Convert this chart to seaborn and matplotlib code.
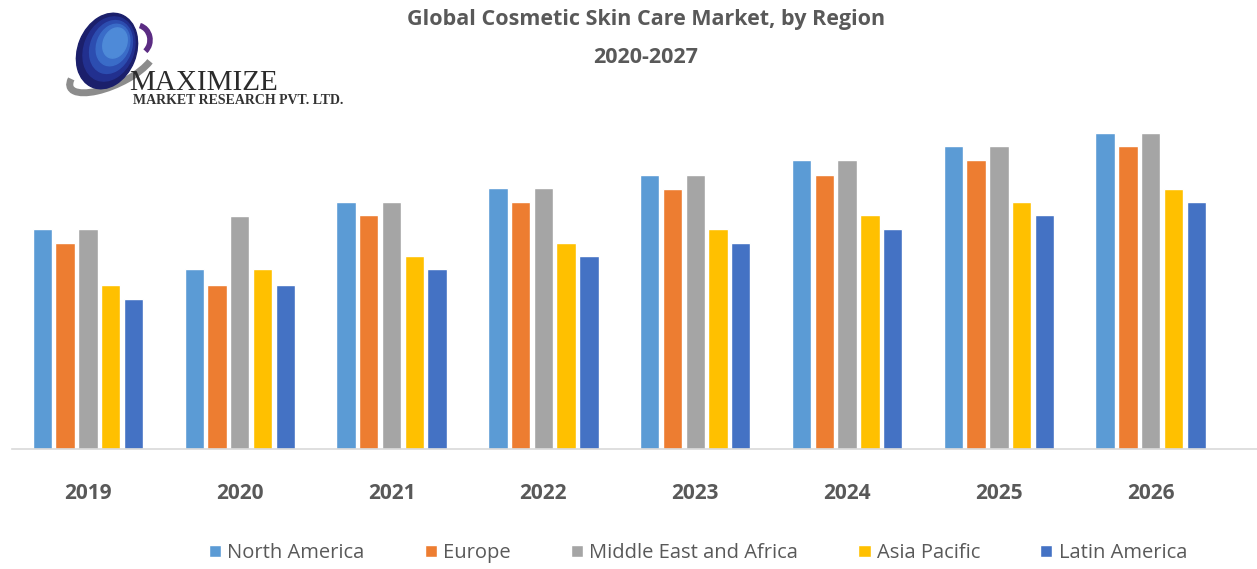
import numpy as np
import pandas as pd
import seaborn as sns
import matplotlib.pyplot as plt
from matplotlib.patches import Ellipse, Arc
from matplotlib.transforms import Affine2D

# valores (unidades arbitrarias, sin eje Y en el original)
years = ["2019", "2020", "2021", "2022", "2023", "2024", "2025", "2026"]
regions = ["North America", "Europe", "Middle East and Africa", "Asia Pacific", "Latin America"]
north_america = [22.0, 18.0, 24.7, 26.1, 27.4, 28.9, 30.3, 31.6]
europe = [20.6, 16.4, 23.4, 24.7, 26.0, 27.4, 28.9, 30.3]
middle_east_africa = [22.0, 23.3, 24.7, 26.1, 27.4, 28.9, 30.3, 31.6]
asia_pacific = [16.4, 18.0, 19.3, 20.6, 22.0, 23.4, 24.7, 26.0]
latin_america = [15.0, 16.4, 18.0, 19.3, 20.6, 22.0, 23.4, 24.7]
colors = ["#5B9BD5", "#ED7D31", "#A5A5A5", "#FFC000", "#4472C4"]

W, H = 1257, 569


def px(x, y):
    """pixeles de la imagen -> fraccion de la figura"""
    return x / W, 1 - y / H


def draw_logo(fig):
    """Logo aproximado de Maximize Market Research"""
    tr = Affine2D().scale(1 / W, 1 / H) + fig.transFigure  # coordenadas en pixeles
    # aro gris
    fig.add_artist(Arc((112, H - 68), 92, 34, angle=25, theta1=170, theta2=345,
                       color="#8C8C8C", lw=5, transform=tr))
    # arco morado
    fig.add_artist(Arc((136, H - 40), 28, 30, angle=0, theta1=-50, theta2=75,
                       color="#5B2C83", lw=4, transform=tr))
    # globo con degradado
    shades = ["#1B1F6B", "#22308F", "#2C4DB0", "#3A6CC8", "#4E8AD8"]
    for i, c in enumerate(shades):
        s = 1 - i * 0.15
        fig.add_artist(Ellipse((107 + i * 2, H - 51 + i * 2), 58 * s, 78 * s,
                               angle=-22, color=c, transform=tr))
    fig.text(*px(129, 90), "MAXIMIZE", fontsize=21, family="Liberation Serif",
             color="#2B2B2B", ha="left", va="baseline")
    fig.text(*px(133, 104), "MARKET RESEARCH PVT. LTD.", fontsize=10, family="Liberation Serif",
             fontweight="bold", color="#333333", ha="left", va="baseline")


def main():
    df = pd.DataFrame({
        "Year": years * len(regions),
        "Region": np.repeat(regions, len(years)),
        "Value": north_america + europe + middle_east_africa + asia_pacific + latin_america,
    })

    sns.set_style("white")
    plt.rcParams["font.family"] = ["Open Sans", "DejaVu Sans"]

    fig = plt.figure(figsize=(W / 100, H / 100), dpi=100)
    ax = fig.add_axes([12 / W, 120.5 / H, (W - 12) / W, 338.5 / H])

    sns.barplot(data=df, x="Year", y="Value", hue="Region", hue_order=regions,
                palette=colors, width=0.75, gap=0.15, errorbar=None,
                saturation=1, ax=ax)

    ax.set_xlim(-0.5, 7.7)
    ax.set_ylim(0, 33.85)
    ax.set_xlabel("")
    ax.set_ylabel("")
    ax.set_yticks([])
    for s in ["top", "right", "left"]:
        ax.spines[s].set_visible(False)
    ax.spines["bottom"].set_color("#D9D9D9")
    ax.spines["bottom"].set_linewidth(1.2)
    ax.tick_params(axis="x", length=0, pad=25, labelsize=15, labelcolor="#595959")
    for lab in ax.get_xticklabels():
        lab.set_fontweight("bold")

    handles, labels = ax.get_legend_handles_labels()
    ax.get_legend().remove()
    fig.legend(handles, labels, loc="center", bbox_to_anchor=(px(698, 553)), ncol=5,
               frameon=False, fontsize=14.5, labelcolor="#595959",
               handlelength=0.6, handleheight=0.6, handletextpad=0.3, columnspacing=3.0)

    fig.text(*px(646, 20), "Global Cosmetic Skin Care Market, by Region", ha="center", va="center",
             fontsize=15.5, fontweight="bold", color="#595959")
    fig.text(*px(646, 57), "2020-2027", ha="center", va="center",
             fontsize=15.5, fontweight="bold", color="#595959")

    draw_logo(fig)
    fig.savefig("out.png", dpi=100)


if __name__ == "__main__":
    main()
